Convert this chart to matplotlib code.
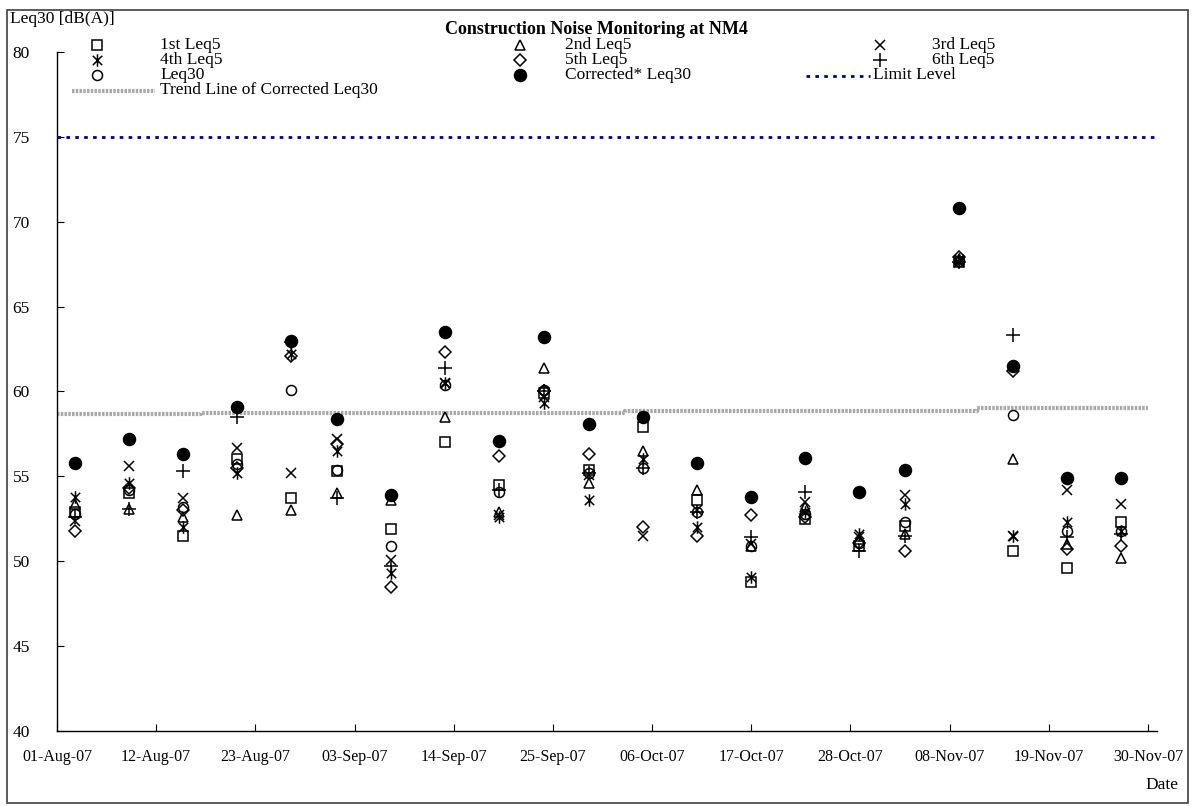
import numpy as np
import matplotlib
matplotlib.use("Agg")
import matplotlib.pyplot as plt
import matplotlib.dates as mdates
from matplotlib.lines import Line2D
from matplotlib.path import Path
from matplotlib.patches import Rectangle

# ---------------- data ----------------
dates = ["2007-08-03", "2007-08-09", "2007-08-15", "2007-08-21", "2007-08-27",
         "2007-09-01", "2007-09-07", "2007-09-13", "2007-09-19", "2007-09-24",
         "2007-09-29", "2007-10-05", "2007-10-11", "2007-10-17", "2007-10-23",
         "2007-10-29", "2007-11-03", "2007-11-09", "2007-11-15", "2007-11-21",
         "2007-11-27"]

leq5_1st = [52.9, 54.0, 51.5, 56.0, 53.7, 55.3, 51.9, 57.0, 54.5, 59.9, 55.4,
            57.9, 53.6, 48.8, 52.5, 50.9, 52.1, 67.6, 50.6, 49.6, 52.3]
leq5_2nd = [53.4, 53.1, 52.6, 52.7, 53.0, 54.0, 53.6, 58.5, 52.9, 61.4, 54.6,
            56.5, 54.2, 50.9, 53.2, 51.3, 51.6, 67.8, 56.0, 51.0, 50.2]
leq5_3rd = [52.4, 55.6, 53.7, 56.7, 55.2, 57.2, 50.1, 60.5, 52.7, 59.7, 55.1,
            51.5, 53.0, 51.0, 53.5, 51.4, 53.9, 67.6, 51.5, 54.2, 53.4]
leq5_4th = [53.8, 54.6, 52.0, 55.2, 62.2, 56.5, 49.3, 60.5, 52.6, 59.3, 53.6,
            56.0, 52.0, 49.1, 52.9, 51.6, 53.4, 67.8, 51.5, 52.3, 51.8]
leq5_5th = [51.8, 54.3, 53.0, 55.5, 62.1, 56.9, 48.5, 62.3, 56.2, 60.0, 56.3,
            52.0, 51.5, 52.7, 52.6, 51.1, 50.6, 67.9, 61.2, 50.7, 50.9]
leq5_6th = [52.6, 53.1, 55.3, 58.5, 62.9, 53.7, 49.7, 61.4, 54.2, 60.0, 55.2,
            55.5, 52.9, 51.4, 54.1, 50.6, 51.5, 67.6, 63.3, 51.4, 51.6]
leq30 = [52.8, 54.2, 53.2, 55.7, 60.1, 55.4, 50.9, 60.4, 54.1, 60.1, 55.2,
         55.5, 52.9, 50.9, 52.8, 51.1, 52.3, 67.7, 58.6, 51.8, 51.8]
corrected_leq30 = [55.8, 57.2, 56.3, 59.1, 63.0, 58.4, 53.9, 63.5, 57.1, 63.2, 58.1,
                   58.5, 55.8, 53.8, 56.1, 54.1, 55.4, 70.8, 61.5, 54.9, 54.9]

trend_dates = ["2007-08-01", "2007-08-17", "2007-10-03", "2007-11-11", "2007-11-30"]
trend_values = [58.65, 58.76, 58.88, 59.00, 59.00]

limit_dates = ["2007-08-01", "2007-12-01"]
limit_values = [75, 75]

series_labels = ["1st Leq5", "2nd Leq5", "3rd Leq5", "4th Leq5", "5th Leq5",
                 "6th Leq5", "Leq30", "Corrected* Leq30"]
limit_label = "Limit Level"
trend_label = "Trend Line of Corrected Leq30"
title = "Construction Noise Monitoring at NM4"
ylabel = "Leq30 [dB(A)]"
xlabel = "Date"

# ---------------- styling ----------------
W, H = 1194, 806
FONT = "Liberation Serif"
plt.rcParams["font.family"] = [FONT, "DejaVu Serif"]

def fx(px):
    return px / W

def fy(py):
    return 1 - py / H

ast_path = Path([(0, -1), (0, 1), (-0.75, -0.75), (0.75, 0.75), (-0.75, 0.75), (0.75, -0.75)],
                [Path.MOVETO, Path.LINETO, Path.MOVETO, Path.LINETO, Path.MOVETO, Path.LINETO])

styles = [
    dict(marker="s", ms=6.8, mfc="none"),
    dict(marker="^", ms=7.8, mfc="none"),
    dict(marker="x", ms=7.5),
    dict(marker=ast_path, ms=9.0),
    dict(marker="D", ms=6.2, mfc="none"),
    dict(marker="+", ms=9.5),
    dict(marker="o", ms=7.2, mfc="none"),
    dict(marker="o", ms=8.6, mfc="black"),
]

fig = plt.figure(figsize=(W / 100, H / 100), dpi=100)
ax = fig.add_axes([fx(57), fy(731), fx(1157) - fx(57), fy(52) - fy(731)])

xd = mdates.date2num(np.array(dates, dtype="datetime64[D]"))
all_series = [leq5_1st, leq5_2nd, leq5_3rd, leq5_4th, leq5_5th, leq5_6th, leq30, corrected_leq30]

ax.plot(mdates.date2num(np.array(limit_dates, dtype="datetime64[D]")), limit_values,
        color="#000080", lw=2.0, linestyle=(0, (1.3, 1.9)), zorder=2)
ax.plot(mdates.date2num(np.array(trend_dates, dtype="datetime64[D]")), trend_values,
        color="#a8a8a8", lw=3.0, drawstyle="steps-post", linestyle=(0, (0.6, 0.3)), zorder=2)

for vals, st in zip(all_series, styles):
    ax.plot(xd, vals, linestyle="none", color="black", mec="black", mew=1.1, zorder=3, **st)

x0 = mdates.date2num(np.datetime64("2007-08-01"))
x1 = mdates.date2num(np.datetime64("2007-12-01"))
ax.set_xlim(x0, x1)
ax.set_ylim(40, 80)
ticks = mdates.date2num(np.arange(np.datetime64("2007-08-01"), np.datetime64("2007-12-01"),
                                  np.timedelta64(11, "D")))
ax.set_xticks(ticks)
ax.xaxis.set_major_formatter(mdates.DateFormatter("%d-%b-%y"))
ax.set_yticks(np.arange(40, 81, 5))

for s in ["top", "right"]:
    ax.spines[s].set_visible(False)
for s in ["left", "bottom"]:
    ax.spines[s].set_linewidth(1.0)
    ax.spines[s].set_color("black")

ax.tick_params(axis="x", direction="in", length=5, width=0.8, pad=13, labelsize=11.5)
ax.tick_params(axis="y", direction="in", length=5, width=0.8, pad=32, labelsize=12.5)
for lab in ax.get_yticklabels():
    lab.set_horizontalalignment("left")
    lab.set_verticalalignment("center_baseline")

# titles / labels
fig.text(fx(596), fy(30), title, ha="center", va="center", fontsize=13, fontweight="bold")
fig.text(fx(10), fy(19), ylabel, ha="left", va="center", fontsize=12.5)
fig.text(fx(1178), fy(785), xlabel, ha="right", va="center", fontsize=12.5)

# legend (manual, Excel-like layout)
row_y = [45, 60, 75, 90]
legend_cells = [
    (0, 97, 160, 0), (1, 520, 565, 0), (2, 880, 932, 0),
    (3, 97, 160, 1), (4, 520, 565, 1), (5, 880, 932, 1),
    (6, 97, 160, 2), (7, 520, 565, 2),
]
for idx, mx, tx, r in legend_cells:
    st = dict(styles[idx])
    fig.add_artist(Line2D([fx(mx)], [fy(row_y[r])], transform=fig.transFigure, linestyle="none",
                          color="black", mec="black", mew=1.1, **st))
    fig.text(fx(tx), fy(row_y[r]), series_labels[idx], ha="left", va="center", fontsize=12.5)

fig.add_artist(Line2D([fx(806), fx(870)], [fy(row_y[2] + 1), fy(row_y[2] + 1)],
                      transform=fig.transFigure,
                      color="#000080", lw=2.0, linestyle=(0, (1.3, 1.9))))
fig.text(fx(873), fy(row_y[2]), limit_label, ha="left", va="center", fontsize=12.5)
fig.add_artist(Line2D([fx(72), fx(155)], [fy(row_y[3] + 1), fy(row_y[3] + 1)],
                      transform=fig.transFigure,
                      color="#a8a8a8", lw=3.0, linestyle=(0, (0.6, 0.3))))
fig.text(fx(160), fy(row_y[3]), trend_label, ha="left", va="center", fontsize=12.5)

# figure border
fig.add_artist(Rectangle((fx(7), fy(803)), fx(1188) - fx(7), fy(10) - fy(803),
                         transform=fig.transFigure, fill=False, edgecolor="#404040", lw=1.2))

fig.savefig("out.png", dpi=100)
